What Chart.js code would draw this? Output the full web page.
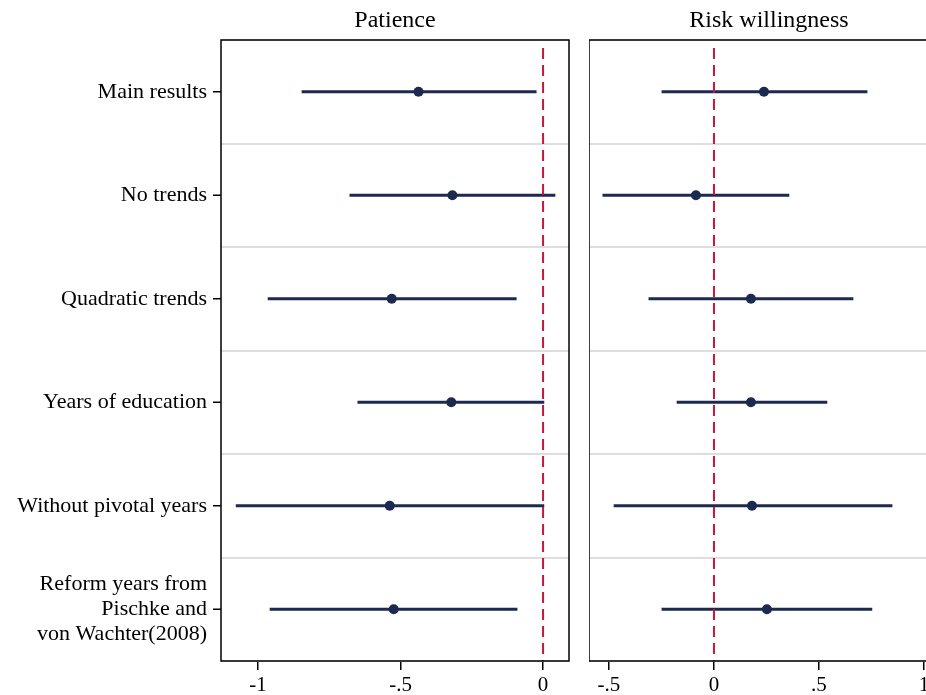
<!DOCTYPE html>
<html>
<head>
<meta charset="utf-8">
<script src="https://cdn.jsdelivr.net/npm/chart.js@4.4.1/dist/chart.umd.min.js"></script>
<style>
  html, body { margin: 0; padding: 0; background: #fff; overflow: hidden; }
  body { width: 926px; height: 695px; position: relative; }
  canvas { position: absolute; top: 0; }
  #patience_chart { left: 0; }
  #risk_chart { left: 589px; }
</style>
</head>
<body>
<canvas id="patience_chart" width="575" height="695"></canvas>
<canvas id="risk_chart" width="360" height="695"></canvas>
<script>
/* data */
const rowLabels = [
  'Main results',
  'No trends',
  'Quadratic trends',
  'Years of education',
  'Without pivotal years',
  ['Reform years from', 'Pischke and', 'von Wachter(2008)']
];

const patienceEst  = [-0.437, -0.318, -0.531, -0.322, -0.538, -0.524];
const patienceLow  = [-0.846, -0.678, -0.965, -0.650, -1.077, -0.958];
const patienceHigh = [-0.024,  0.042, -0.094,  0.003,  0.003, -0.091];

const riskEst  = [ 0.238, -0.086,  0.176,  0.176,  0.181,  0.252];
const riskLow  = [-0.248, -0.529, -0.310, -0.176, -0.476, -0.248];
const riskHigh = [ 0.729,  0.357,  0.662,  0.538,  0.848,  0.752];

const patienceTicks = [-1, -0.5, 0];
const riskTicks = [-0.5, 0, 0.5, 1];

const navy = '#1c2a4f';
const red = '#c8163e';
const serif = 'Liberation Serif';

function fmtTick(v) {
  return String(v).replace('0.', '.');
}

/* box, zero line, y tick marks and panel title */
const panelDecor = {
  id: 'panelDecor',
  afterDatasetsDraw(chart, args, opts) {
    const ctx = chart.ctx;
    const a = chart.chartArea;
    const x0 = chart.scales.x.getPixelForValue(0);
    ctx.save();
    ctx.strokeStyle = red;
    ctx.lineWidth = 2;
    ctx.setLineDash([11, 6]);
    ctx.beginPath();
    ctx.moveTo(x0, a.top + 8);
    ctx.lineTo(x0, a.bottom);
    ctx.stroke();
    ctx.restore();
  },
  afterDraw(chart, args, opts) {
    const ctx = chart.ctx;
    const a = chart.chartArea;
    ctx.save();
    ctx.strokeStyle = '#000';
    ctx.lineWidth = 1.5;
    ctx.strokeRect(a.left, a.top, a.right - a.left, a.bottom - a.top);
    if (opts.yTicks) {
      const y = chart.scales.y;
      rowLabels.forEach((l, i) => {
        const py = y.getPixelForValue(i);
        ctx.beginPath();
        ctx.moveTo(a.left - 8, py);
        ctx.lineTo(a.left, py);
        ctx.stroke();
      });
    }
    ctx.fillStyle = '#000';
    ctx.font = '24px "' + serif + '"';
    ctx.textAlign = 'center';
    ctx.textBaseline = 'middle';
    ctx.fillText(opts.title, (a.left + a.right) / 2, 21);
    ctx.restore();
  }
};

function makePanel(id, title, est, low, high, ticks, xmin, xmax, showY) {
  const ctx = document.getElementById(id).getContext('2d');
  return new Chart(ctx, {
    type: 'bar',
    data: {
      labels: rowLabels,
      datasets: [{
        type: 'line',
        indexAxis: 'y',
        data: est,
        showLine: false,
        pointRadius: 5,
        pointHoverRadius: 5,
        pointBackgroundColor: navy,
        pointBorderColor: navy,
        pointBorderWidth: 0
      }, {
        data: low.map((v, i) => [v, high[i]]),
        backgroundColor: navy,
        borderWidth: 0,
        barThickness: 2.5
      }]
    },
    options: {
      indexAxis: 'y',
      responsive: false,
      animation: false,
      layout: {
        autoPadding: false,
        padding: { top: 40, right: showY ? 6 : 0, bottom: 0, left: 0 }
      },
      plugins: {
        legend: { display: false },
        tooltip: { enabled: false },
        panelDecor: { title: title, yTicks: showY }
      },
      scales: {
        x: {
          type: 'linear',
          min: xmin,
          max: xmax,
          afterBuildTicks: s => { s.ticks = ticks.map(v => ({ value: v })); },
          afterFit: s => { s.height = 34; s.paddingLeft = 0; s.paddingRight = 0; },
          grid: { drawOnChartArea: false, drawTicks: true, tickLength: 9, color: '#000', lineWidth: 1.5 },
          border: { display: false },
          ticks: {
            color: '#000',
            padding: 5,
            font: { family: serif, size: 21, lineHeight: 1 },
            callback: v => fmtTick(v)
          }
        },
        y: {
          type: 'category',
          display: true,
          grid: { offset: true, drawTicks: false, color: '#dedede', lineWidth: 2 },
          border: { display: false },
          afterFit: s => { s.width = showY ? 221 : 0; s.paddingTop = 0; s.paddingBottom = 0; },
          ticks: {
            display: showY,
            color: '#000',
            padding: 14,
            font: { family: serif, size: 22, lineHeight: 1.12 }
          }
        }
      }
    },
    plugins: [panelDecor]
  });
}

makePanel('patience_chart', 'Patience', patienceEst, patienceLow, patienceHigh,
  patienceTicks, -1.13, 0.091, true);
makePanel('risk_chart', 'Risk willingness', riskEst, riskLow, riskHigh,
  riskTicks, -0.595, 1.119, false);
</script>
</body>
</html>
